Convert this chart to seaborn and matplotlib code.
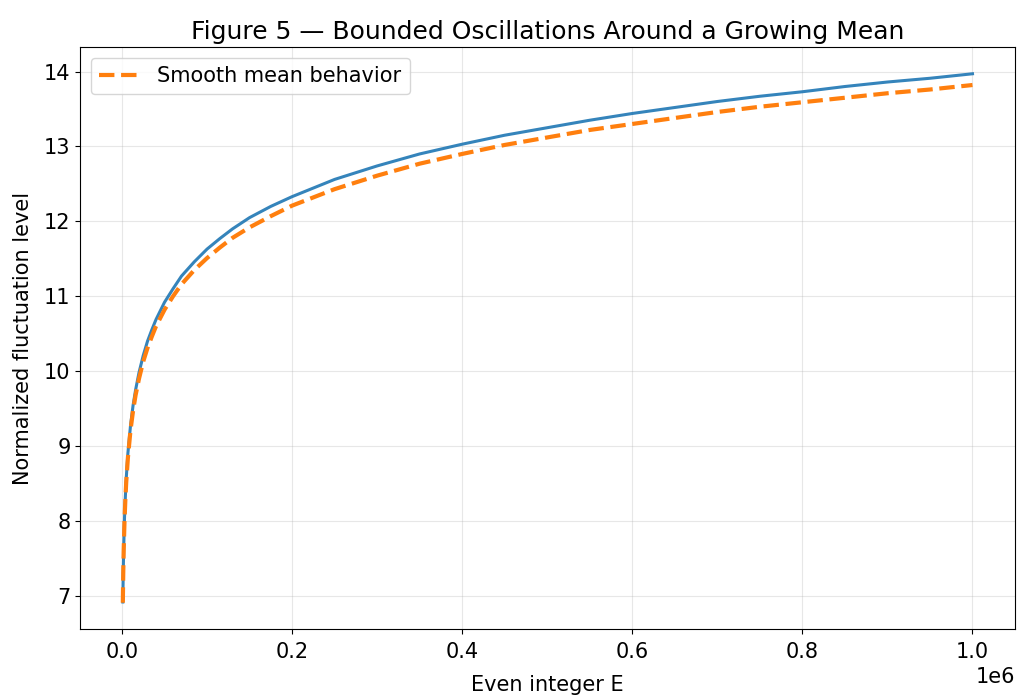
import numpy as np
import pandas as pd
import matplotlib
matplotlib.use("Agg")
import matplotlib.pyplot as plt
import seaborn as sns

# ==============================
# DADOS
# ==============================
even_e = [1e3, 1.5e3, 2e3, 3e3, 4e3, 5e3, 7e3, 1e4, 1.3e4, 1.6e4, 2e4,
          2.5e4, 3e4, 3.5e4, 4e4, 5e4, 6e4, 7e4, 8.5e4, 1e5, 1.15e5,
          1.3e5, 1.5e5, 1.75e5, 2e5, 2.5e5, 3e5, 3.5e5, 4e5, 4.5e5,
          5e5, 5.5e5, 6e5, 6.5e5, 7e5, 7.5e5, 8e5, 8.5e5, 9e5, 9.5e5, 1e6]
fluct_level = [6.92, 7.33, 7.63, 8.05, 8.33, 8.57, 8.91, 9.27, 9.54, 9.75,
               9.98, 10.21, 10.40, 10.55, 10.69, 10.92, 11.10, 11.27,
               11.46, 11.63, 11.77, 11.90, 12.05, 12.20, 12.33, 12.56,
               12.74, 12.90, 13.03, 13.15, 13.25, 13.35, 13.44, 13.52,
               13.60, 13.67, 13.73, 13.80, 13.86, 13.91, 13.97]
mean_level = [6.91, 7.31, 7.60, 8.01, 8.29, 8.52, 8.85, 9.21, 9.47, 9.68,
              9.90, 10.13, 10.31, 10.46, 10.60, 10.82, 11.00, 11.16,
              11.35, 11.51, 11.65, 11.78, 11.92, 12.07, 12.21, 12.43,
              12.61, 12.77, 12.90, 13.02, 13.12, 13.22, 13.30, 13.38,
              13.46, 13.53, 13.59, 13.65, 13.71, 13.76, 13.82]

df = pd.DataFrame({"E": even_e, "level": fluct_level, "mean": mean_level})

# ==============================
# GRÁFICO
# ==============================
fig, ax = plt.subplots(figsize=(10.17, 6.96), dpi=100)
fig.subplots_adjust(left=0.079, right=0.998, bottom=0.096, top=0.932)

sns.lineplot(data=df, x="E", y="level", ax=ax, color="#1f77b4",
             alpha=0.9, linewidth=2.2)
sns.lineplot(data=df, x="E", y="mean", ax=ax, color="#ff7f0e",
             linewidth=3, linestyle="--", label="Smooth mean behavior")

ax.set_title("Figure 5 \u2014 Bounded Oscillations Around a Growing Mean",
             fontsize=18)
ax.set_xlabel("Even integer E", fontsize=15, labelpad=9)
ax.set_ylabel("Normalized fluctuation level", fontsize=15, labelpad=8)
ax.tick_params(labelsize=15)
ax.tick_params(axis="x", pad=6)
ax.xaxis.get_offset_text().set_fontsize(15)
ax.grid(True, alpha=0.3)
ax.legend(loc="upper left", fontsize=15)

plt.savefig("out.png", dpi=100)
